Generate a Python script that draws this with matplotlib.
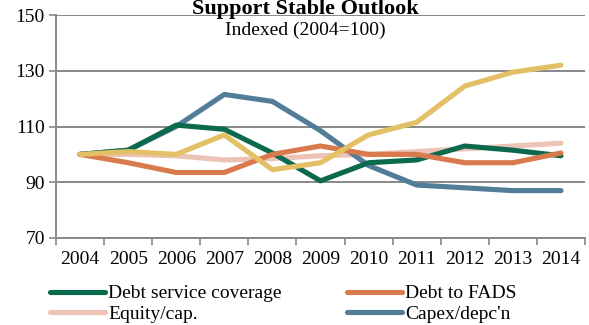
import matplotlib.pyplot as plt
import numpy as np

plt.rcParams['font.family'] = ['Liberation Serif', 'DejaVu Serif']

years = ['2004', '2005', '2006', '2007', '2008', '2009', '2010', '2011', '2012', '2013', '2014']
debt_service = [100, 101.5, 110.5, 109, 100.5, 90.5, 97, 98, 103, 101.5, 99.5]
debt_fads = [100, 97, 93.5, 93.5, 100, 103, 100, 100, 97, 97, 100.5]
equity_cap = [100, 100, 99.5, 98, 98.5, 99.5, 100, 101, 102, 103, 104]
capex_depc = [100, 101.5, 110, 121.5, 119, 108.5, 96, 89, 88, 87, 87]
other = [100, 101, 100, 107, 94.5, 97, 107, 111.5, 124.5, 129.5, 132]

fig = plt.figure(figsize=(5.89, 3.25), dpi=100)
ax = fig.add_axes([56/589, 1 - 238/325, 529/589, 223/325])

x = np.arange(len(years))
lw = 3.7
l1, = ax.plot(x, debt_service, color='#0b6a4e', lw=lw, solid_capstyle='round', zorder=3)
l2, = ax.plot(x, debt_fads, color='#d97a4c', lw=lw, solid_capstyle='round', zorder=3)
l3, = ax.plot(x, equity_cap, color='#ecc3b5', lw=lw, solid_capstyle='round', zorder=2)
l4, = ax.plot(x, capex_depc, color='#527d99', lw=lw, solid_capstyle='round', zorder=2)
ax.plot(x, other, color='#e3c066', lw=lw, solid_capstyle='round', zorder=4)

ax.set_xlim(-0.5, len(years) - 0.5)
ax.set_ylim(70, 150)
ax.set_yticks([70, 90, 110, 130, 150])
ax.set_xticks(x)
ax.set_xticklabels(years)
ax.set_xticks(np.arange(-0.5, len(years)), minor=True)
ax.tick_params(axis='x', which='major', length=0, pad=9, labelsize=14)
ax.tick_params(axis='x', which='minor', length=5, width=1.2, color='#888888')
ax.tick_params(axis='y', length=5, width=1.2, color='#888888', labelsize=14, pad=3)

ax.yaxis.grid(True, color='#888888', lw=1.4)
ax.set_axisbelow(True)
for s in ['top', 'right']:
    ax.spines[s].set_visible(False)
for s in ['left', 'bottom']:
    ax.spines[s].set_color('#888888')
    ax.spines[s].set_linewidth(1.4)

fig.text(0.518, 1 - 9/325, 'Support Stable Outlook', ha='center', va='center',
         fontsize=16, fontweight='bold')
fig.text(0.518, 1 - 30/325, 'Indexed (2004=100)', ha='center', va='center', fontsize=14)

# ncol=2 fills column by column
fig.legend([l1, l3, l2, l4],
           ['Debt service coverage', 'Equity/cap.', 'Debt to FADS', "Capex/depc'n"],
           ncol=2, loc='lower left', bbox_to_anchor=(50/589, 2/325),
           frameon=False, fontsize=14, handlelength=2.85, handletextpad=0.15,
           columnspacing=3.35, labelspacing=0.15, borderaxespad=0, borderpad=0)

fig.savefig('out.png', dpi=100)
